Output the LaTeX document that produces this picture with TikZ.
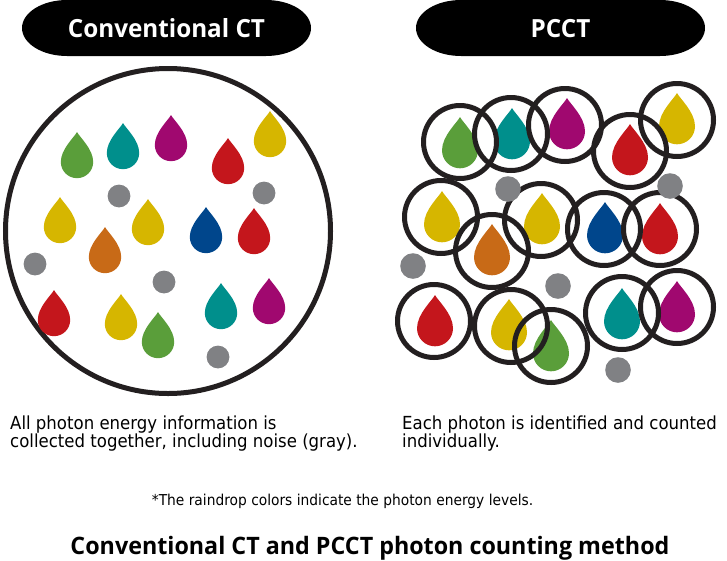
\documentclass[tikz,border=0pt]{standalone}
\usepackage{fontspec}
\setmainfont{DejaVu Sans}[FakeStretch=0.92]
\newfontfamily\hdfont{Open Sans}[FakeStretch=0.97]
\definecolor{cgreen}{HTML}{5A9E3A}
\definecolor{cteal}{HTML}{008F8C}
\definecolor{cmag}{HTML}{A0086F}
\definecolor{cred}{HTML}{C4161C}
\definecolor{cyel}{HTML}{D6B600}
\definecolor{cblue}{HTML}{00468C}
\definecolor{corange}{HTML}{C86A17}
\definecolor{cgray}{HTML}{808184}
\definecolor{cring}{HTML}{231F20}
\tikzset{
  pics/drop/.style={code={
    \path[pic actions] (0,0) .. controls (0.15,0.3) and (1,1.05) .. (1,1.85)
      .. controls (1,2.402) and (0.552,2.85) .. (0,2.85)
      .. controls (-0.552,2.85) and (-1,2.402) .. (-1,1.85)
      .. controls (-1,1.05) and (-0.15,0.3) .. (0,0) -- cycle;}},
  ldrop/.style={fill=#1, scale=16.2},
  rdrop/.style={fill=#1, scale=18},
  ring/.style={draw=cring, line width=5pt},
  noiseL/.style={fill=cgray},
  pill/.style={fill=black},
  hdtext/.style={text=white, font=\hdfont\bfseries\fontsize{25}{30}\selectfont},
  bodytext/.style={font=\fontsize{18}{18.4}\selectfont, inner sep=0pt},
}
\begin{document}
\begin{tikzpicture}[x=1pt,y=-1pt]
\useasboundingbox (0,0) rectangle (727,560);
% header pills
\fill[pill] (67,0) -- (266,0) .. controls (290.8,0) and (311,12.5) .. (311,28)
  .. controls (311,43.5) and (290.8,56) .. (266,56) -- (67,56)
  .. controls (42.2,56) and (22,43.5) .. (22,28)
  .. controls (22,12.5) and (42.2,0) .. (67,0) -- cycle;
\fill[pill] (461,0) -- (660,0) .. controls (684.8,0) and (705,12.5) .. (705,28)
  .. controls (705,43.5) and (684.8,56) .. (660,56) -- (461,56)
  .. controls (436.2,56) and (416,43.5) .. (416,28)
  .. controls (416,12.5) and (436.2,0) .. (461,0) -- cycle;
\node[hdtext, anchor=base] (hL) at (166.5,37) {Conventional CT};
\node[hdtext, anchor=base] (hR) at (560.5,37) {PCCT};
% left big circle
\draw[ring] (168,231) circle[radius=162.5];
\pic[ldrop=cgreen] at (77,132) {drop};
\pic[ldrop=cteal] at (123,123) {drop};
\pic[ldrop=cmag] at (171,115) {drop};
\pic[ldrop=cred] at (228,138) {drop};
\pic[ldrop=cyel] at (270,111) {drop};
\pic[ldrop=cyel] at (60,197) {drop};
\pic[ldrop=cyel] at (148,199) {drop};
\pic[ldrop=cblue] at (206,207) {drop};
\pic[ldrop=cred] at (254,208) {drop};
\pic[ldrop=corange] at (105,227) {drop};
\pic[ldrop=cred] at (54,290) {drop};
\pic[ldrop=cyel] at (121,294) {drop};
\pic[ldrop=cgreen] at (158,312) {drop};
\pic[ldrop=cteal] at (221,283) {drop};
\pic[ldrop=cmag] at (269,278) {drop};
\foreach \p in {(119,196),(264,193),(35,264),(164,282),(218,357)}
  \fill[noiseL] \p circle[radius=11.4];
% right drops
\pic[rdrop=cgreen] at (460,117) {drop};
\pic[rdrop=cteal] at (512,108) {drop};
\pic[rdrop=cmag] at (567,98) {drop};
\pic[rdrop=cred] at (630,124) {drop};
\pic[rdrop=cyel] at (677,93) {drop};
\pic[rdrop=cyel] at (442,191) {drop};
\pic[rdrop=corange] at (492,224) {drop};
\pic[rdrop=cyel] at (542,193) {drop};
\pic[rdrop=cblue] at (605,202) {drop};
\pic[rdrop=cred] at (660,203) {drop};
\pic[rdrop=cred] at (435,295) {drop};
\pic[rdrop=cyel] at (509,299) {drop};
\pic[rdrop=cgreen] at (551,320) {drop};
\pic[rdrop=cteal] at (622,288) {drop};
\pic[rdrop=cmag] at (677,281) {drop};
\foreach \p in {(460,142),(511,134),(565,125),(630,151),(677,120),
                (441,217),(492,251),(541,220),(604,229),(660,229),
                (434,321),(511,326),(551,346),(622,313),(677,307)}
  \draw[ring] \p circle[radius=36.5];
\foreach \p in {(508,189),(670,186),(413,266),(558,286),(618,370)}
  \fill[noiseL] \p circle[radius=12.8];
% texts
\node[bodytext, anchor=base west] (tL1) at (10,429) {All photon energy information is};
\node[bodytext, anchor=base west] (tL2) at (10,447.5) {collected together, including noise (gray).};
\node[bodytext, anchor=base west] (tR1) at (402,429) {Each photon is identified and counted};
\node[bodytext, anchor=base west] (tR2) at (402,447.5) {individually.};
\node[inner sep=0pt, anchor=base, font=\fontsize{15}{18}\selectfont] (note) at (342.5,505.5)
  {*The raindrop colors indicate the photon energy levels.};
\node[inner sep=0pt, anchor=base, font=\hdfont\bfseries\fontsize{24}{28}\selectfont] (title) at (370,554)
  {Conventional CT and PCCT photon counting method};
\end{tikzpicture}
\end{document}
